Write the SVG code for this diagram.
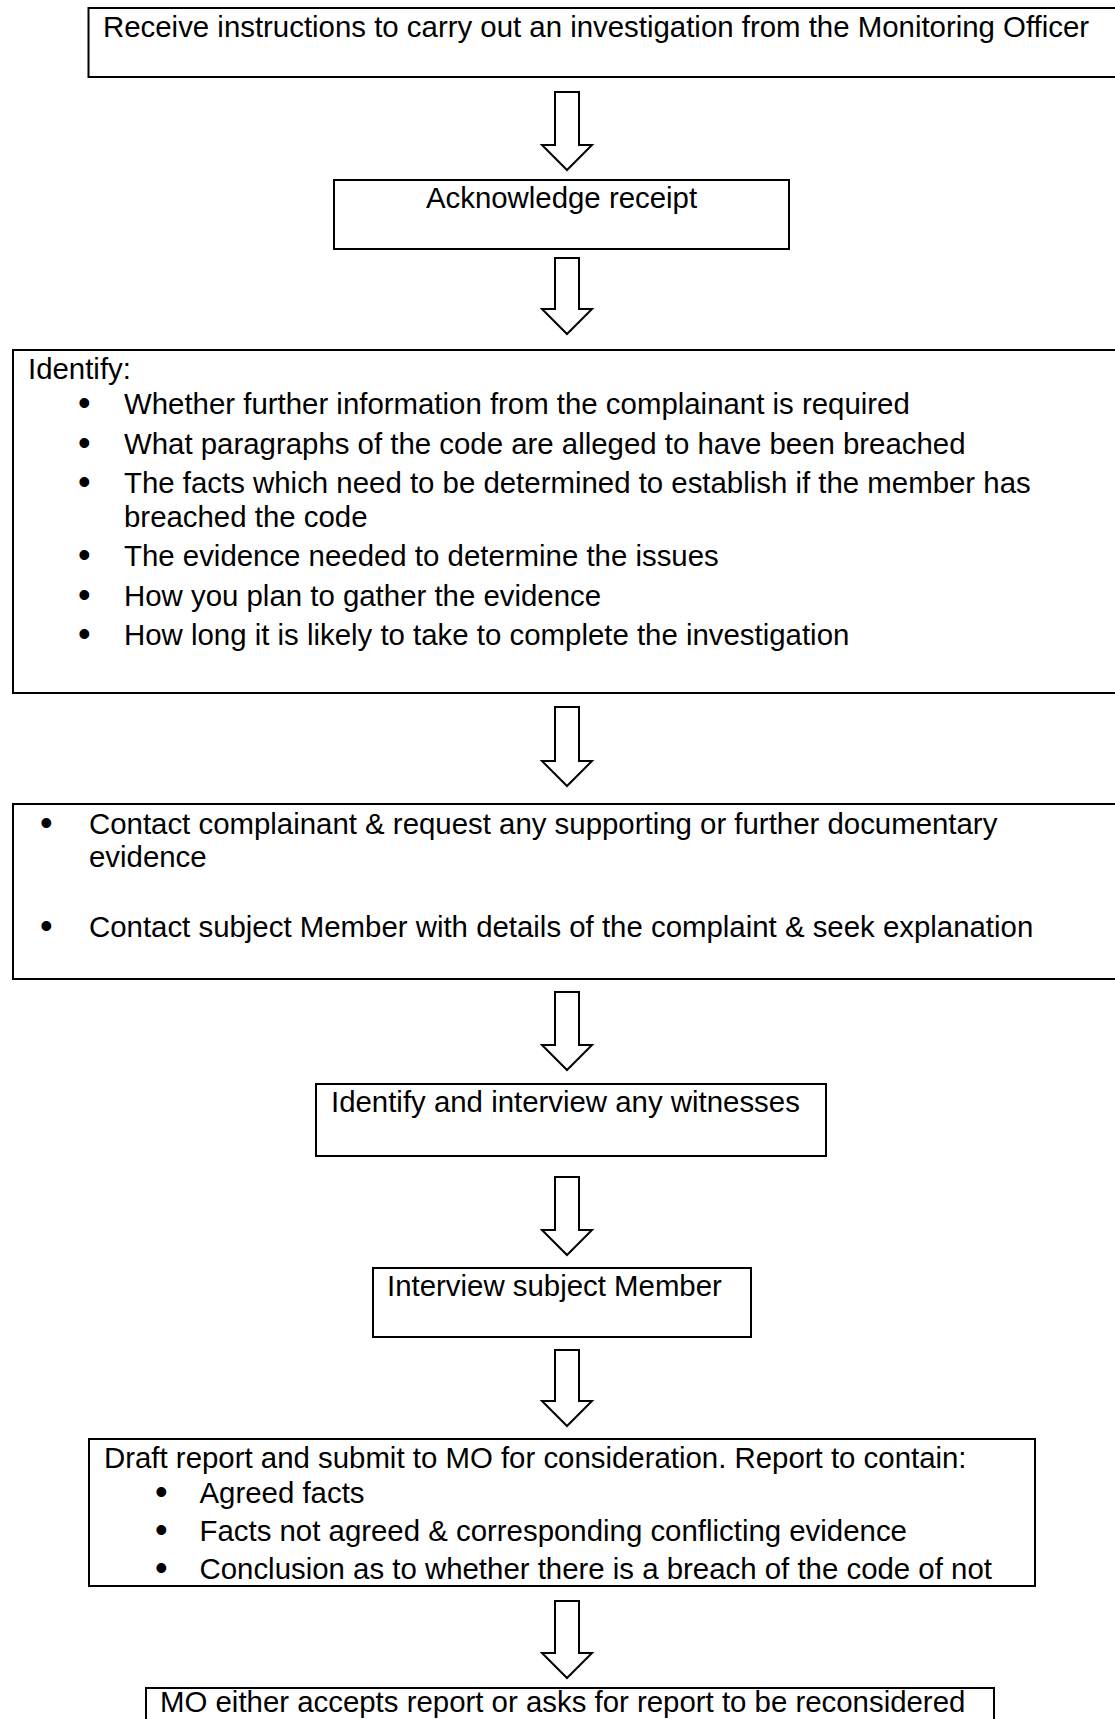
<svg xmlns="http://www.w3.org/2000/svg" width="1115" height="1719" viewBox="0 0 1115 1719">
<style>
.box{fill:#fff;stroke:#000;stroke-width:2}
.arr{fill:#fff;stroke:#000;stroke-width:2;stroke-linejoin:miter}
text{font-family:"Liberation Sans",Arial,sans-serif;font-size:29.4px;fill:#000}
text.b{font-size:36px}
</style>
<rect width="1115" height="1719" fill="#fff"/>
<g id="connectors">
<polygon class="arr" points="555,92 579,92 579,145 592,145 567,170 542,145 555,145"/>
<polygon class="arr" points="555,258 579,258 579,309 592,309 567,334 542,309 555,309"/>
<polygon class="arr" points="555,707 579,707 579,761 592,761 567,786 542,761 555,761"/>
<polygon class="arr" points="555,992 579,992 579,1045 592,1045 567,1070 542,1045 555,1045"/>
<polygon class="arr" points="555,1177 579,1177 579,1230 592,1230 567,1255 542,1230 555,1230"/>
<polygon class="arr" points="555,1350 579,1350 579,1401 592,1401 567,1426 542,1401 555,1401"/>
<polygon class="arr" points="555,1601 579,1601 579,1653 592,1653 567,1678 542,1653 555,1653"/>
</g>
<g id="n1">
<rect class="box" x="88.5" y="8" width="1040" height="69"/>
<text x="103" y="37">Receive instructions to carry out an investigation from the Monitoring Officer</text>
</g>
<g id="n2">
<rect class="box" x="334" y="180" width="455" height="69"/>
<text x="561.5" y="208" text-anchor="middle">Acknowledge receipt</text>
</g>
<g id="n3">
<rect class="box" x="13" y="350" width="1110" height="343"/>
<text x="28" y="379">Identify:</text>
<text class="b" x="78" y="415">•</text><text x="124" y="414">Whether further information from the complainant is required</text>
<text class="b" x="78" y="454.5">•</text><text x="124" y="453.5">What paragraphs of the code are alleged to have been breached</text>
<text class="b" x="78" y="494">•</text><text x="124" y="493">The facts which need to be determined to establish if the member has</text>
<text x="124" y="526.5">breached the code</text>
<text class="b" x="78" y="567">•</text><text x="124" y="566">The evidence needed to determine the issues</text>
<text class="b" x="78" y="606.5">•</text><text x="124" y="605.5">How you plan to gather the evidence</text>
<text class="b" x="78" y="646">•</text><text x="124" y="645">How long it is likely to take to complete the investigation</text>
</g>
<g id="n4">
<rect class="box" x="13" y="804" width="1110" height="175"/>
<text class="b" x="40" y="834.5">•</text><text x="89" y="833.5">Contact complainant &amp; request any supporting or further documentary</text>
<text x="89" y="867">evidence</text>
<text class="b" x="40" y="938">•</text><text x="89" y="937">Contact subject Member with details of the complaint &amp; seek explanation</text>
</g>
<g id="n5">
<rect class="box" x="316" y="1084" width="510" height="72"/>
<text x="331" y="1112">Identify and interview any witnesses</text>
</g>
<g id="n6">
<rect class="box" x="373" y="1268" width="378" height="69"/>
<text x="387" y="1296">Interview subject Member</text>
</g>
<g id="n7">
<rect class="box" x="89" y="1439" width="946" height="147"/>
<text x="104" y="1468">Draft report and submit to MO for consideration. Report to contain:</text>
<text class="b" x="155" y="1504">•</text><text x="199.5" y="1503">Agreed facts</text>
<text class="b" x="155" y="1541.5">•</text><text x="199.5" y="1540.5">Facts not agreed &amp; corresponding conflicting evidence</text>
<text class="b" x="155" y="1580">•</text><text x="199.5" y="1579">Conclusion as to whether there is a breach of the code of not</text>
</g>
<g id="n8">
<rect class="box" x="146" y="1688" width="848" height="60"/>
<text x="160" y="1712">MO either accepts report or asks for report to be reconsidered</text>
</g>
</svg>
